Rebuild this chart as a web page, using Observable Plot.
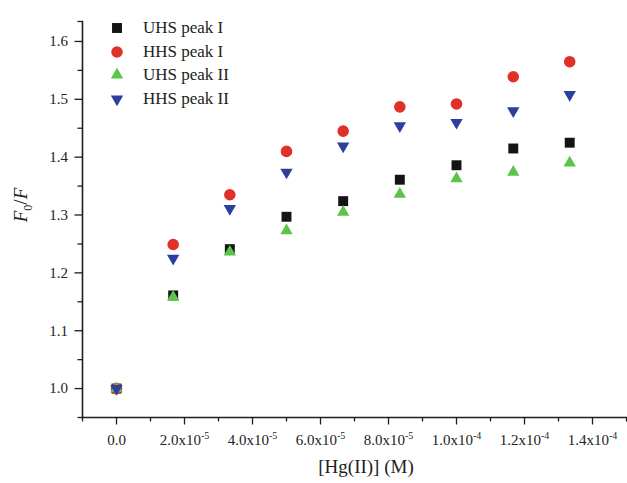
<!DOCTYPE html>
<html><head><meta charset="utf-8">
<script src="https://cdn.jsdelivr.net/npm/d3@7"></script>
<script src="https://cdn.jsdelivr.net/npm/@observablehq/plot@0.6"></script>
<style>
body{margin:0;background:#fff;}
#chart{position:relative;width:627px;height:483px;}
#legend{position:absolute;left:105px;top:16px;font-family:"Liberation Serif",serif;font-size:17px;color:#222;}
#legend div{display:flex;align-items:center;height:23.7px;}
#legend svg{width:24px;height:16px;margin-right:14px;}
</style></head><body><div id="chart"><div id="legend"></div></div>
<script>
const concentrations = [0, 1.667e-5, 3.333e-5, 5e-5, 6.667e-5, 8.333e-5, 1e-4, 1.167e-4, 1.333e-4];
const seriesNames = ["UHS peak I", "HHS peak I", "UHS peak II", "HHS peak II"];
const seriesColors = ["#141414", "#e0302a", "#5cc44a", "#2c3f9e"];
const uhsPeakI  = [1.0, 1.161, 1.241, 1.297, 1.324, 1.361, 1.386, 1.415, 1.425];
const hhsPeakI  = [1.0, 1.249, 1.335, 1.410, 1.445, 1.487, 1.492, 1.539, 1.565];
const uhsPeakII = [1.0, 1.158, 1.236, 1.273, 1.305, 1.336, 1.363, 1.374, 1.390];
const hhsPeakII = [1.0, 1.225, 1.311, 1.374, 1.419, 1.454, 1.460, 1.480, 1.508];
const yTicks = [1.0, 1.1, 1.2, 1.3, 1.4, 1.5, 1.6];
const yMinorTicks = [0.95, 1.05, 1.15, 1.25, 1.35, 1.45, 1.55, 1.6345];
const xTicks = [0, 2e-5, 4e-5, 6e-5, 8e-5, 1e-4, 1.2e-4, 1.4e-4];
const xMinorTicks = [-1e-5, 1e-5, 3e-5, 5e-5, 7e-5, 9e-5, 1.1e-4, 1.3e-4, 1.5e-4];
const xTickLabels = ["0.0", "2.0x10|-5", "4.0x10|-5", "6.0x10|-5", "8.0x10|-5", "1.0x10|-4", "1.2x10|-4", "1.4x10|-4"];
const xLabel = "[Hg(II)] (M)";

const triangleDown = {
  draw(ctx, size) {
    const y = -Math.sqrt(size / (Math.sqrt(3) * 3));
    ctx.moveTo(0, -2 * y);
    ctx.lineTo(-Math.sqrt(3) * y, y);
    ctx.lineTo(Math.sqrt(3) * y, y);
    ctx.closePath();
  }
};
const symbols = [d3.symbolSquare, d3.symbolCircle, d3.symbolTriangle, triangleDown];
const radii = [5.6, 5.8, 4.6, 4.6];
const seriesValues = [uhsPeakI, hhsPeakI, uhsPeakII, hhsPeakII];

const dotMarks = seriesValues.map((vals, s) =>
  Plot.dot(concentrations.map((c, i) => ({c, v: vals[i]})), {
    x: "c", y: "v", symbol: () => symbols[s], r: radii[s], fill: seriesColors[s], stroke: "none"
  })
);

const axisColor = "#1e1e1e";
const plot = Plot.plot({
  width: 627, height: 483,
  marginLeft: 82, marginRight: 1, marginTop: 21, marginBottom: 66,
  x: {domain: [-1e-5, 1.5e-4]},
  y: {domain: [0.95, 1.6345]},
  symbol: {type: "identity"},
  style: {fontFamily: "Liberation Serif, serif", fontSize: "15px", color: "#222", background: "#fff"},
  marks: [
    Plot.axisY({ticks: yMinorTicks, tickSize: 4.5, tickFormat: () => "", label: null, stroke: axisColor, strokeWidth: 1.3}),
    Plot.axisY({ticks: yTicks, tickSize: 7.5, tickPadding: 7, tickFormat: d => d.toFixed(1), label: null, stroke: axisColor, strokeWidth: 1.3, fontSize: 15}),
    Plot.axisX({ticks: xMinorTicks, tickSize: 4.5, tickFormat: () => "", label: null, stroke: axisColor, strokeWidth: 1.3}),
    Plot.axisX({ticks: xTicks, tickSize: 7.5, tickPadding: 9, tickFormat: d => xTickLabels[Math.round(d / 2e-5)], label: null, stroke: axisColor, strokeWidth: 1.3, fontSize: 15}),
    Plot.frame({anchor: "left", stroke: axisColor, strokeWidth: 1.6}),
    Plot.frame({anchor: "bottom", stroke: axisColor, strokeWidth: 1.6}),
    ...dotMarks
  ]
});

// superscripts in x tick labels
plot.querySelectorAll('[aria-label="x-axis tick label"] text').forEach(t => {
  const s = t.textContent;
  if (s.includes("|")) {
    const [a, b] = s.split("|");
    t.textContent = "";
    const ns = "http://www.w3.org/2000/svg";
    const t1 = document.createElementNS(ns, "tspan"); t1.textContent = a; t.appendChild(t1);
    const t2 = document.createElementNS(ns, "tspan"); t2.textContent = b;
    t2.setAttribute("dy", "-6"); t2.setAttribute("font-size", "10"); t.appendChild(t2);
  }
});

const svg = d3.select(plot);
svg.append("text")
  .attr("x", 366).attr("y", 473)
  .attr("text-anchor", "middle")
  .attr("font-size", 19).attr("fill", "#222")
  .attr("font-family", "Liberation Serif, serif")
  .text(xLabel);

const yl = svg.append("text")
  .attr("transform", "translate(27,205) rotate(-90)")
  .attr("text-anchor", "middle")
  .attr("font-size", 19).attr("fill", "#222")
  .attr("font-family", "Liberation Serif, serif");
yl.append("tspan").attr("font-style", "italic").text("F");
yl.append("tspan").attr("dy", 5).attr("font-size", 12).text("0");
yl.append("tspan").attr("dy", -5).text("/");
yl.append("tspan").attr("font-style", "italic").text("F");

document.getElementById("chart").prepend(plot);

// legend
const legend = d3.select("#legend");
seriesNames.forEach((name, s) => {
  const row = legend.append("div");
  const sv = row.append("svg").attr("viewBox", "-12 -8 24 16");
  sv.append("path")
    .attr("d", d3.symbol(symbols[s], Math.PI * radii[s] * radii[s])())
    .attr("fill", seriesColors[s]);
  row.append("span").text(name);
});
</script></body></html>
